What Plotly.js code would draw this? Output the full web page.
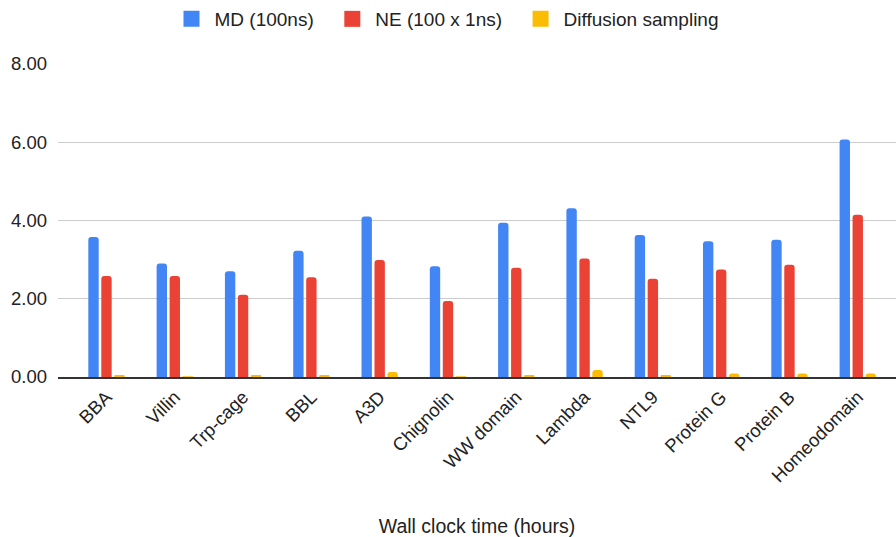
<!DOCTYPE html>
<html><head><meta charset="utf-8">
<script src="https://cdn.plot.ly/plotly-3.0.1.min.js"></script>
<style>html,body{margin:0;padding:0;background:#fff}#chart{width:896px;height:537px}</style>
</head><body><div id="chart"></div>
<script>
const categories = ["BBA","Villin","Trp-cage","BBL","A3D","Chignolin","WW domain","Lambda","NTL9","Protein G","Protein B","Homeodomain"];
const mdValues = [3.58,2.90,2.70,3.23,4.10,2.83,3.94,4.31,3.63,3.47,3.51,6.07];
const neValues = [2.58,2.58,2.10,2.55,2.99,1.94,2.79,3.03,2.51,2.75,2.87,4.15];
const diffValues = [0.05,0.02,0.05,0.05,0.13,0.02,0.05,0.18,0.05,0.09,0.09,0.09];
const seriesNames = ["MD (100ns)","NE (100 x 1ns)","Diffusion sampling"];
const yTicks = [0,2,4,6,8];
const yTickText = ["0.00","2.00","4.00","6.00","8.00"];
const xTitle = "Wall clock time (hours)";

const colors = ["#4285F4","#EA4335","#FBBC04"];
const allVals = [mdValues, neValues, diffValues];
const traces = allVals.map((v,i)=>({
  type:"bar", x:categories, y:v, name:seriesNames[i], legendgroup:"g"+i,
  showlegend:false,
  marker:{color:colors[i], cornerradius:3}, hoverinfo:"x+y"
}));
// legend-only entries with larger square swatches
const legendTraces = seriesNames.map((n,i)=>({
  type:"scatter", mode:"markers", x:[null], y:[null],
  name: i < seriesNames.length-1 ? n + "\u00a0\u00a0" : n, legendgroup:"g"+i,
  marker:{symbol:"square", size:16, color:colors[i]}, hoverinfo:"skip"
}));
const font = "Arial, 'Liberation Sans', sans-serif";
Plotly.newPlot("chart", traces.concat(legendTraces), {
  width:896, height:537,
  margin:{l:58, r:0, t:63, b:160},
  paper_bgcolor:"#fff", plot_bgcolor:"#fff",
  barmode:"group", bargap:0.43, bargroupgap:0.2,
  font:{family:font, color:"#222", size:18},
  showlegend:true,
  legend:{orientation:"h", x:0.463, xanchor:"center", y:1.143, yanchor:"middle",
    font:{size:19, color:"#222"}, itemwidth:36, traceorder:"normal"},
  xaxis:{type:"category", categoryarray:categories, range:[-0.71,11.56], tickangle:-45, showgrid:false,
    ticks:"", showline:true, linecolor:"#333", linewidth:2,
    tickfont:{size:18.5, color:"#222"}, automargin:false,
    title:{text:xTitle, font:{size:19.5, color:"#222"}, standoff:40}},
  yaxis:{range:[0,8], tickvals:yTicks, ticktext:yTickText, showgrid:true,
    gridcolor:"#cccccc", gridwidth:1.3, zeroline:false, ticks:"",
    tickfont:{size:18.5, color:"#222"}, automargin:false, ticklabelstandoff:10}
}, {displayModeBar:false, staticPlot:true});
</script></body></html>
